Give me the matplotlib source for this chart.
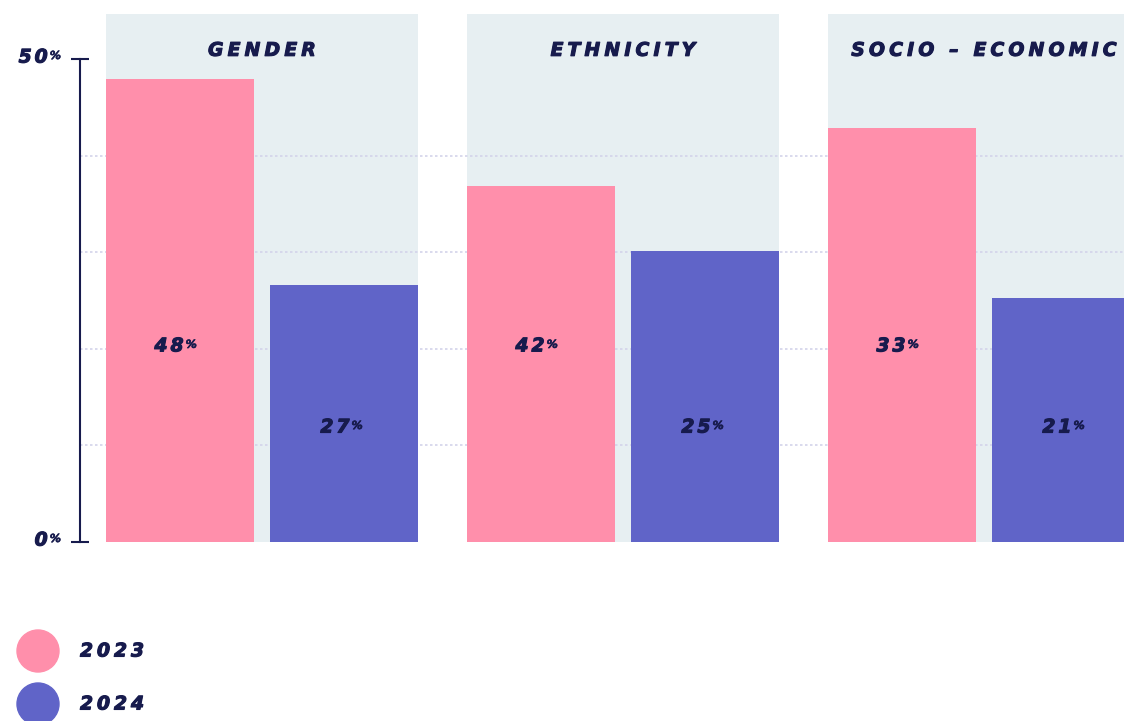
import matplotlib
matplotlib.use("Agg")
import matplotlib.pyplot as plt
import matplotlib.patheffects as pe
from matplotlib.patches import Circle
from matplotlib.transforms import offset_copy, IdentityTransform

# data
groups = ["GENDER", "ETHNICITY", "SOCIO – ECONOMIC"]
years = ["2023", "2024"]
bar_2023 = [47.9, 36.9, 42.9]      # drawn heights
bar_2024 = [26.6, 30.1, 25.3]
label_2023 = ["48", "42", "33"]    # printed labels
label_2024 = ["27", "25", "21"]
yticks = [0, 50]
grid_vals = [10, 20, 30, 40]

PINK = "#ff8fab"
PURPLE = "#6064c8"
PANEL = "#e7eff2"
NAVY = "#171b4d"
GRID = "#d3d3ea"
FONT = ["DejaVu Sans"]

fig = plt.figure(figsize=(11.24, 7.21), dpi=100)
ax = fig.add_axes([80 / 1124, (721 - 542) / 721, 1044 / 1124, 528 / 721])
ax.set_xlim(-0.504, 2.388)
ax.set_ylim(0, 54.66)

xs = range(len(groups))
w = 0.41
off = 0.227
panel_w = 0.864

# background panels
ax.bar(xs, [54.66] * 3, width=panel_w, color=PANEL, zorder=0)
for g in grid_vals:
    ax.axhline(g, color=GRID, lw=1.2, ls=(0, (1.5, 1.5)), zorder=1)
ax.bar([x - off for x in xs], bar_2023, width=w, color=PINK, zorder=2)
ax.bar([x + off for x in xs], bar_2024, width=w, color=PURPLE, zorder=2)

for s in ["top", "right", "bottom"]:
    ax.spines[s].set_visible(False)
ax.spines["left"].set_bounds(0, 50)
ax.spines["left"].set_color(NAVY)
ax.spines["left"].set_linewidth(1.5)
ax.set_xticks([])
ax.set_yticks(yticks)
ax.set_yticklabels([])
ax.tick_params(axis="y", direction="inout", length=13, width=1.5, color=NAVY)

r = fig.canvas.get_renderer()
bold = [pe.withStroke(linewidth=0.8, foreground=NAVY)]
style = dict(fontweight="bold", style="italic", family=FONT, color=NAVY)


def tracked(x, y, s, size, track, trans, ha="center"):
    # draw a string letter by letter with extra spacing (px)
    widths = []
    for ch in s:
        t = ax.text(0, 0, ch, fontsize=size, **style)
        widths.append(t.get_window_extent(r).width)
        t.remove()
    total = sum(widths) + track * (len(s) - 1)
    start = {"center": -total / 2, "left": 0, "right": -total}[ha]
    pos = start
    last = None
    for ch, cw in zip(s, widths):
        last = ax.text(x, y, ch, fontsize=size, va="center", ha="left",
                       transform=offset_copy(trans, fig=fig, x=pos, y=0, units="dots"),
                       clip_on=False, path_effects=bold, **style)
        pos += cw + track
    return last


def pct(x, y, num, size, trans, ha="center", dx=0):
    last = tracked(x, y, num, size, 3, offset_copy(trans, fig=fig, x=dx, y=0, units="dots"), ha=ha)
    ax.annotate("%", xy=(1, 1), xycoords=last, xytext=(1.5, -2.5), textcoords="offset points",
                ha="left", va="top", fontsize=size * 0.6, annotation_clip=False,
                path_effects=[pe.withStroke(linewidth=0.4, foreground=NAVY)], **style)


# category titles
for x, g in zip(xs, groups):
    tracked(x, 50.9, g, 13.5, 4.2, ax.transData)

# value labels
for x, a, b in zip(xs, label_2023, label_2024):
    pct(x - off, 20.3, a, 13.5, ax.transData, dx=-11)
    pct(x + off, 11.9, b, 13.5, ax.transData, dx=-9)

# y tick labels
ytr = ax.get_yaxis_transform()
for v in yticks:
    pct(-0.031, v + 0.2, str(v), 13.5, ytr, ha="right")

# legend
for i, (yr, c) in enumerate(zip(years, [PINK, PURPLE])):
    cy = 721 - (651 + 53 * i)
    fig.add_artist(Circle((38, cy), 21, color=c, transform=IdentityTransform()))
    tracked(80, cy, yr, 13.5, 4, IdentityTransform(), ha="left")

fig.savefig("out.png", dpi=100)
